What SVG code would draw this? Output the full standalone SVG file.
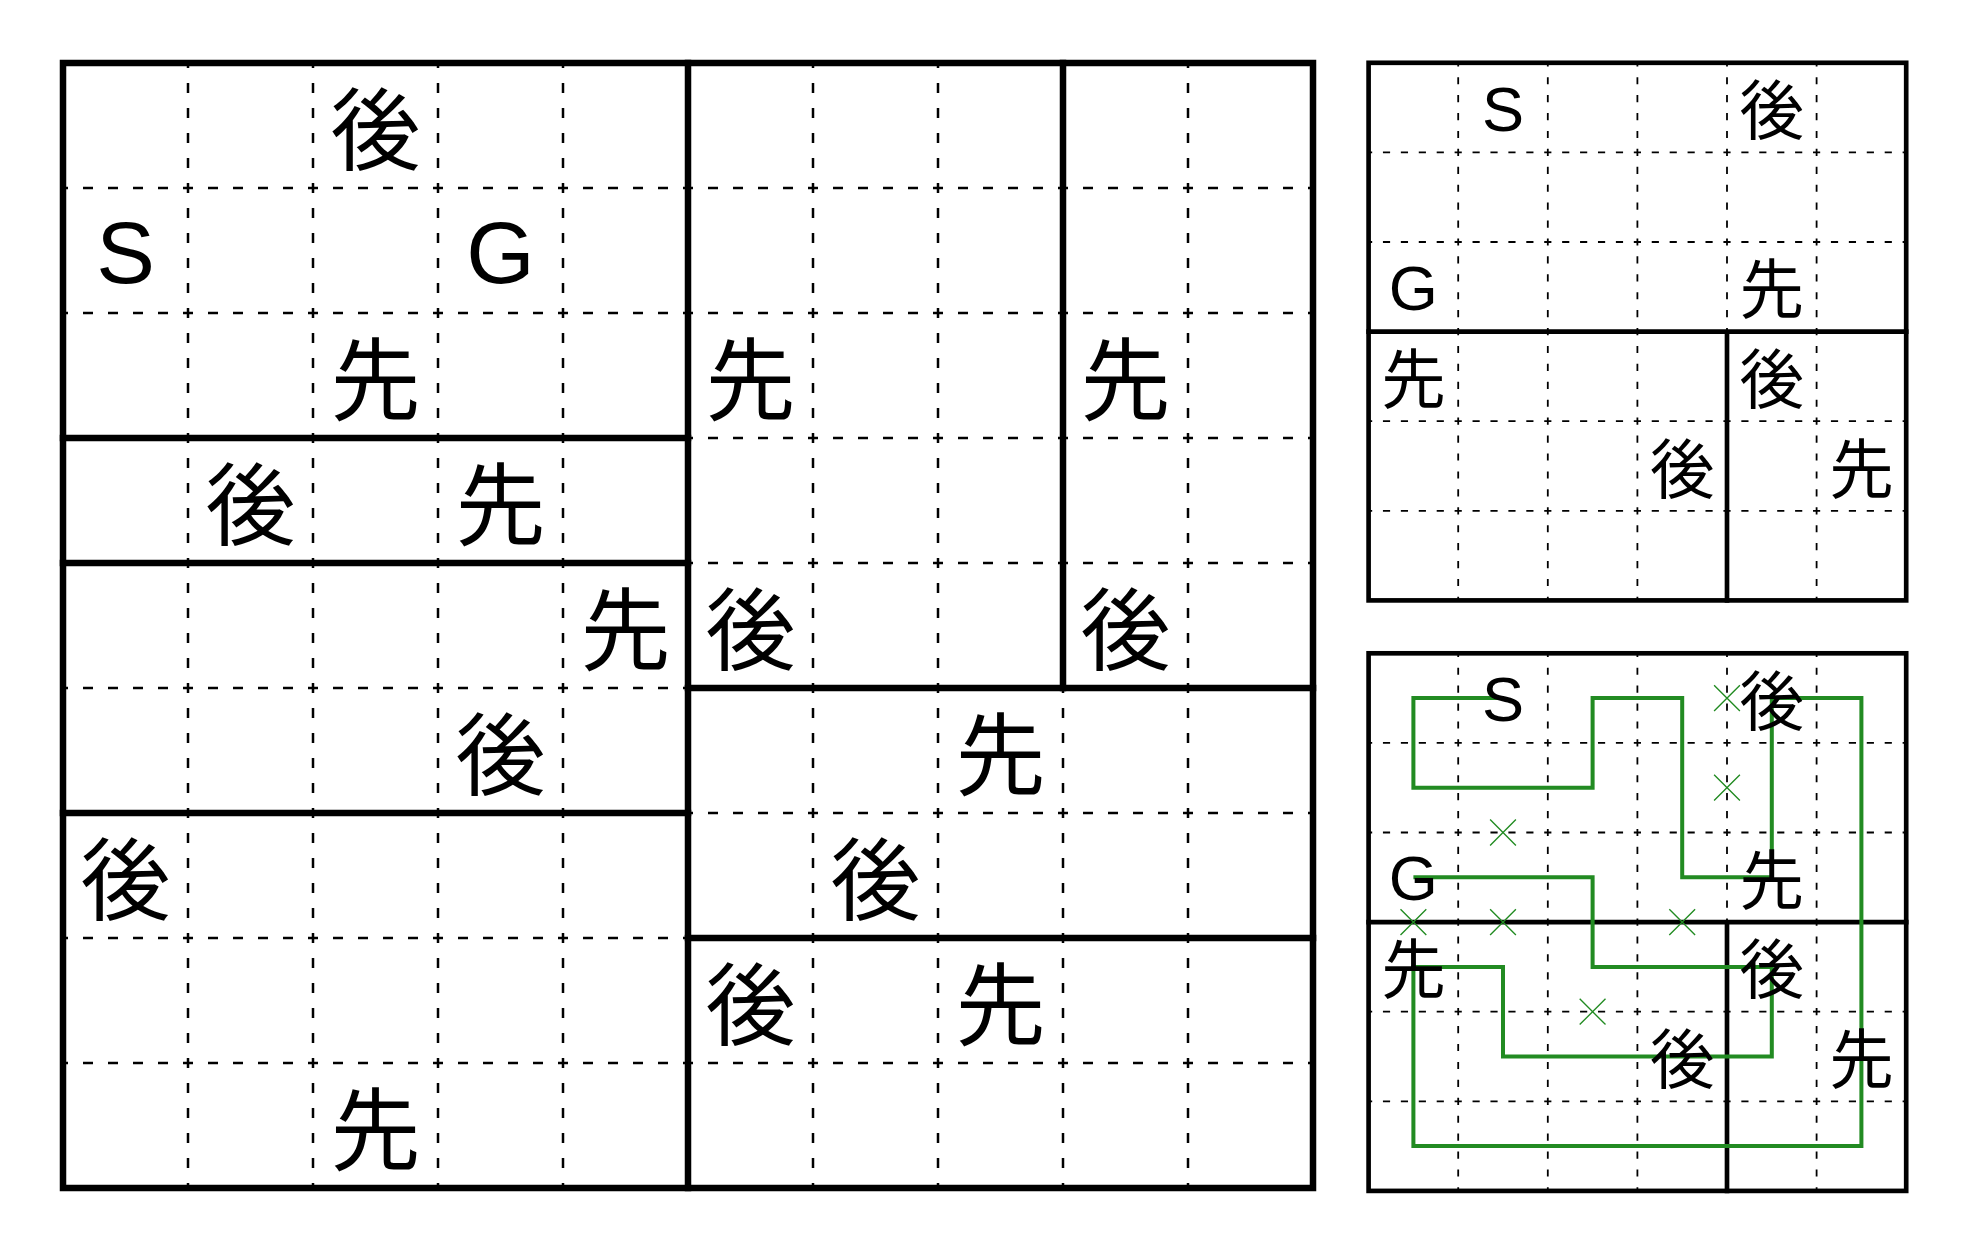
<svg xmlns="http://www.w3.org/2000/svg" width="1962" height="1244" viewBox="0 0 1962 1244">
<style>
.bg{fill:#ffffff}
.dash{stroke:#000;stroke-width:2.5;stroke-dasharray:10 15;stroke-dashoffset:5;fill:none}
.thick{stroke:#000;stroke-width:6.5;fill:none;stroke-linecap:square}
.frame{stroke:#000;stroke-width:6.5;fill:none}
.lat{font-family:"Liberation Sans",Arial,sans-serif;font-size:88px;text-anchor:middle;fill:#000}
.cjk{font-family:"Noto Sans CJK JP","Noto Sans CJK SC",sans-serif;font-size:90px;text-anchor:middle;fill:#000}
.path{stroke:#228B22;stroke-width:5.6;fill:none;stroke-linejoin:miter}
.x{stroke:#228B22;stroke-width:1.9;fill:none}
</style>
<defs>
<g id="smallgrid">
<g class="dash">
<path d="M125 0V750M250 0V750M375 0V750M500 0V750M625 0V750"/>
<path d="M0 125H750M0 250H750M0 375H750M0 500H750M0 625H750"/>
</g>
<g class="thick">
<path d="M0 375H750M500 375V750"/>
</g>
<rect class="frame" x="0" y="0" width="750" height="750"/>
</g>
<g id="smalltext">
<text class="lat" x="187.5" y="94.5">S</text>
<text class="cjk" x="562.5" y="99.5">後</text>
<text class="lat" x="62.5" y="344.5">G</text>
<text class="cjk" x="562.5" y="349.5">先</text>
<text class="cjk" x="62.5" y="474.5">先</text>
<text class="cjk" x="562.5" y="474.5">後</text>
<text class="cjk" x="437.5" y="599.5">後</text>
<text class="cjk" x="687.5" y="599.5">先</text>
</g>
</defs>
<rect class="bg" x="0" y="0" width="1962" height="1244"/>

<g id="big-grid">
<g class="dash">
<path d="M188 63V1188M313 63V1188M438 63V1188M563 63V1188M688 63V1188M813 63V1188M938 63V1188M1063 63V1188M1188 63V1188"/>
<path d="M63 188H1313M63 313H1313M63 438H1313M63 563H1313M63 688H1313M63 813H1313M63 938H1313M63 1063H1313"/>
</g>
<g class="thick">
<path d="M688 63V1188M1063 63V688"/>
<path d="M63 438H688M63 563H688M63 813H688M688 688H1313M688 938H1313"/>
</g>
<rect class="frame" x="63" y="63" width="1250" height="1125"/>
<g id="big-text">
<text class="cjk" x="375.5" y="162.5">後</text>
<text class="lat" x="125.5" y="282.5">S</text>
<text class="lat" x="500.5" y="282.5">G</text>
<text class="cjk" x="375.5" y="412.5">先</text>
<text class="cjk" x="750.5" y="412.5">先</text>
<text class="cjk" x="1125.5" y="412.5">先</text>
<text class="cjk" x="250.5" y="537.5">後</text>
<text class="cjk" x="500.5" y="537.5">先</text>
<text class="cjk" x="625.5" y="662.5">先</text>
<text class="cjk" x="750.5" y="662.5">後</text>
<text class="cjk" x="1125.5" y="662.5">後</text>
<text class="cjk" x="500.5" y="787.5">後</text>
<text class="cjk" x="1000.5" y="787.5">先</text>
<text class="cjk" x="125.5" y="912.5">後</text>
<text class="cjk" x="875.5" y="912.5">後</text>
<text class="cjk" x="750.5" y="1037.5">後</text>
<text class="cjk" x="1000.5" y="1037.5">先</text>
<text class="cjk" x="375.5" y="1162.5">先</text>
</g>
</g>

<g id="small-grid-puzzle" transform="translate(1368.6 62.8) scale(0.7168)">
<use href="#smallgrid"/>
<use href="#smalltext"/>
</g>

<g id="small-grid-solution" transform="translate(1368.6 653.3) scale(0.7168)">
<use href="#smallgrid"/>
<polyline class="path" points="187.5,62.5 62.5,62.5 62.5,187.5 312.5,187.5 312.5,62.5 437.5,62.5 437.5,312.5 562.5,312.5 562.5,62.5 687.5,62.5 687.5,687.5 62.5,687.5 62.5,437.5 187.5,437.5 187.5,562.5 562.5,562.5 562.5,437.5 312.5,437.5 312.5,312.5 62.5,312.5"/>
<g class="x">
<path d="M482 44.5L518 80.5M518 44.5L482 80.5"/>
<path d="M482 169.5L518 205.5M518 169.5L482 205.5"/>
<path d="M169.5 232L205.5 268M205.5 232L169.5 268"/>
<path d="M44.5 357L80.5 393M80.5 357L44.5 393"/>
<path d="M169.5 357L205.5 393M205.5 357L169.5 393"/>
<path d="M419.5 357L455.5 393M455.5 357L419.5 393"/>
<path d="M294.5 482L330.5 518M330.5 482L294.5 518"/>
</g>
<use href="#smalltext"/>
</g>
</svg>
